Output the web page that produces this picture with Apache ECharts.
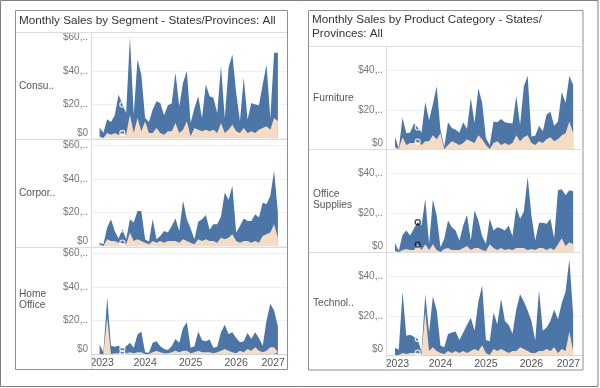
<!DOCTYPE html>
<html><head><meta charset="utf-8">
<script src="https://cdn.jsdelivr.net/npm/echarts@6/dist/echarts.min.js"></script>
<style>html,body{margin:0;padding:0;background:#fff}#c{width:600px;height:388px}</style>
</head><body><div id="c"></div>
<script>
// ---- data (thousands of $), months Jan 2023 .. Dec 2026 ----
const yearLabels = ['2023','2024','2025','2026','2027'];
const leftTitle = 'Monthly Sales by Segment - States/Provinces: All';
const rightTitle = 'Monthly Sales by Product Category - States/\nProvinces: All';
const segmentLabels = ['Consu..','Corpor..','Home\nOffice'];
const categoryLabels = ['Furniture','Office\nSupplies','Technol..'];
const leftTicks = [0,20,40,60];
const rightTicks = [0,20,40];

const consumerSales = [6.2,3.2,11.2,9.6,13.6,26,20,15,60.4,14,47,38,12,9.6,17,22,21,13.6,19.6,20.6,39,19,33,40,9,18,25,12,32,25,24,15,43,12,42,50,27,10,36,11,21,20,19.6,32,44,12,51,51];
const consumerProfit = [1,0,3,2,3,2,3,2,14,3,12,4,10,3,3,6,3,2,4,4,9,3,5,10,1,6,5,4,5,4,5,3,9,3,5,8,4,3,6,3,4,3,5,6,7,5,12,10];
const corporateSales = [2,1,11,16,9,4.5,10,4,16,14,21,21,4,2.5,16,4,6,9,8,12,16.5,9,27,16,10.5,4,14.5,16,18.5,9.7,13,13,17.6,32,27.5,36,8,12,16.5,15,15,19,17,26,25,30,45,20];
const corporateProfit = [1,0,4,3,3,2,2,1,8,3,4,3,2,1,3,2,3,2,3,3,3,2,4,3,2,1,4,3,4,3,3,2,5,4,5,7,3,2,3,3,2,3,2,6,7,8,13,5];
const homeSales = [5.7,1,34,5,4.3,5,3,4.7,6.7,3.7,11.6,13.5,1,0.8,6.7,7.6,4.7,3,2.4,4.7,9,6.7,15.5,19,3.7,4.7,13.5,8.2,7.6,8.6,3.7,4.3,13,17.5,12,13,9.6,7,7.6,12.5,9,13,9.6,5,20,30,26,16.5];
const homeProfit = [0,0,22,0,0.5,0.5,0.5,0.5,1,0.5,1,1,0,0,1,2,1,0.5,0.5,1,2,1,2,2,0.5,1,2,1,1,1,0.5,1,2,3,2,1,0.5,2,1,3,2,4,2,1,2,4,4,1];
const furnitureSales = [6.4,0.3,15.9,8,8.4,13,11,8.4,24,14.7,22.8,32,9.8,1.2,13.6,10.7,9.8,8.4,13.6,10.2,26,13.3,31,23.6,5.5,2,14,13.6,15.3,13.6,13.3,13,27,12.4,32,37.4,6.4,6.7,11.9,9,17.6,19,11.9,14,29,23.6,37.4,32.6];
const furnitureProfit = [1,0,6,2,3,3,3.8,2,4,4,7,5,8,0,2,4,3,2,3,5,4,3,7,5,2,0,3,4,2,3,2,3,7,4,6,7,3,2,4,3,5,6,4,5,7,8,14,8];
const officeSales = [4.6,0.7,8.7,11,8.4,12,15.2,13.5,27,4.1,26.8,18.6,2.4,6.7,16,12.6,11,5.8,13.5,19,5.8,21.2,16,8,4.1,16.9,11,12.6,12,11,13.5,8,22.9,16.9,20.7,38.3,18.6,5.8,14.9,14.9,14.4,16.9,7,31.5,32,28.9,31.5,31];
const officeProfit = [0.5,0,1,1.5,1,1,3.8,1,4,1,4,1,0,1.5,2,1,1,1,2,3,1,2,2,1,0.5,4,2,1,2,1,1.5,1,2,2,2,1,1.5,1,2,2,1,2,1,4,7,3,5,4];
const techSales = [3.7,2.7,32.3,9.8,10.3,9.3,8.2,1.5,31,11.5,29.8,23,4.8,4,10.7,11.5,12,7.7,11.5,15.3,19,12.3,27.3,35.3,7.7,7,21.5,15.7,28.7,17.3,15.3,11,23.2,31,27.3,22.7,17.3,7.3,33.2,12.3,14,17.3,23.2,18.2,26.5,32.3,49,20.7];
const techProfit = [0,0,1,0.5,1,1,1.2,0.5,22,2,4,2,1,0.5,2,1,2,1,2,1,2,3,2,5,1,0,3,2,3,2,1,2,2,4,3,2,1,1,2,2,3,2,4,1,3,2,12,2];
const highlightMonth = 6; // Jul 2023

// ---- styling / layout ----
const BLUE = '#4b76a7', PEACH = '#f6dcc3';
const FONT = '"Liberation Sans", Arial, sans-serif';
const panels = [
  {sales: consumerSales, profit: consumerProfit, side: 0, row: 0, mk: '#ffffff'},
  {sales: corporateSales, profit: corporateProfit, side: 0, row: 1, mk: '#ffffff'},
  {sales: homeSales, profit: homeProfit, side: 0, row: 2, mk: '#ffffff'},
  {sales: furnitureSales, profit: furnitureProfit, side: 1, row: 0, mk: '#ffffff'},
  {sales: officeSales, profit: officeProfit, side: 1, row: 1, mk: '#111111'},
  {sales: techSales, profit: techProfit, side: 1, row: 2, mk: '#ffffff'}
];
const layout = [
  {left: 92, width: 195, tops: [33,141,249], height: 105, xmin: -2, xmax: 49.4, ymax: 62.8, ticks: leftTicks, zpad: 9},
  {left: 387, width: 196, tops: [47,150,253], height: 102, xmin: -2.1, xmax: 49.6, ymax: 52, ticks: rightTicks, zpad: 11}
];

const grids = [], xAxes = [], yAxes = [], series = [];
panels.forEach((p, k) => {
  const L = layout[p.side];
  const bottom = p.row === 2;
  grids.push({left: L.left, width: L.width, top: L.tops[p.row], height: L.height});
  xAxes.push({
    type: 'value', gridIndex: k, min: L.xmin, max: L.xmax,
    axisLine: {show: bottom, lineStyle: {color: '#d4d4d4', width: 1}},
    axisTick: {show: false}, splitLine: {show: false},
    axisLabel: {
      show: bottom, customValues: [0,12,24,36,48], margin: 4,
      color: '#555', fontSize: 10.5, fontFamily: FONT,
      formatter: v => {
        const i = Math.round(v / 12);
        const t = yearLabels[i];
        if (i === 0) return '{a|' + t + '}';
        if (i === yearLabels.length - 1) return '{b|' + t + '}';
        return t;
      },
      rich: {
        a: {padding: [0,0,0,5], color: '#555', fontSize: 10.5, fontFamily: FONT},
        b: {padding: [0,17,0,0], color: '#555', fontSize: 10.5, fontFamily: FONT}
      }
    }
  });
  yAxes.push({
    type: 'value', gridIndex: k, min: 0, max: L.ymax,
    axisLine: {show: false},
    axisTick: {show: false, customValues: L.ticks},
    splitLine: {show: true, lineStyle: {color: '#f0f0f0', width: 1}},
    axisLabel: {
      customValues: L.ticks, margin: 4, color: '#777', fontSize: 10, fontFamily: FONT,
      formatter: v => v === 0 ? '{z|$0}' : '$' + v + ',..',
      rich: {z: {padding: [0,0,L.zpad,0], color: '#777', fontSize: 10, fontFamily: FONT}}
    }
  });
  series.push({type: 'line', xAxisIndex: k, yAxisIndex: k, data: p.sales.map((v, i) => [i, v]),
    symbol: 'none', lineStyle: {width: 0}, areaStyle: {color: BLUE, opacity: 1}, silent: true, z: 2});
  series.push({type: 'line', xAxisIndex: k, yAxisIndex: k, data: p.profit.map((v, i) => [i, v]),
    symbol: 'none', lineStyle: {width: 0}, areaStyle: {color: PEACH, opacity: 1}, silent: true, z: 3});
  series.push({type: 'scatter', xAxisIndex: k, yAxisIndex: k,
    data: [[highlightMonth, p.sales[highlightMonth]], [highlightMonth, p.profit[highlightMonth]]],
    symbol: 'circle', symbolSize: 5, silent: true, z: 5,
    itemStyle: {color: 'rgba(0,0,0,0)', borderColor: p.mk, borderWidth: 1.3}});
});

const lineEl = (x1, y1, x2, y2, c) => ({type: 'line', silent: true, z: 1,
  shape: {x1, y1, x2, y2}, style: {stroke: c, lineWidth: 1}});
const textEl = (x, y, text, size, color, lh) => ({type: 'text', x, y, silent: true, z: 10,
  style: {text, fontSize: size, fontFamily: FONT, fill: color, verticalAlign: 'middle', lineHeight: lh || size * 1.2}});

const graphic = [
  {type: 'rect', silent: true, z: 1, shape: {x: 0.5, y: 0.5, width: 597.5, height: 386}, style: {fill: 'none', stroke: '#7f7f7f', lineWidth: 1}},
  {type: 'rect', silent: true, z: 1, shape: {x: 15.5, y: 10.5, width: 272, height: 359}, style: {fill: 'none', stroke: '#8f8f8f', lineWidth: 1}},
  {type: 'rect', silent: true, z: 1, shape: {x: 308.5, y: 10.5, width: 274.5, height: 359.5}, style: {fill: 'none', stroke: '#8f8f8f', lineWidth: 1}},
  lineEl(16, 32.5, 287, 32.5, '#dcdcdc'),
  lineEl(309, 46.5, 583, 46.5, '#dcdcdc'),
  lineEl(91.5, 33, 91.5, 369, '#dcdcdc'),
  lineEl(386.5, 47, 386.5, 370, '#dcdcdc'),
  lineEl(16, 139.5, 287, 139.5, '#dcdcdc'),
  lineEl(16, 247.5, 287, 247.5, '#dcdcdc'),
  lineEl(309, 149.5, 583, 149.5, '#dcdcdc'),
  lineEl(309, 252.5, 583, 252.5, '#dcdcdc'),
  textEl(19, 20.5, leftTitle, 11.7, '#333'),
  textEl(312, 27, rightTitle, 11.7, '#333', 14),
  textEl(19, 86, segmentLabels[0], 10.2, '#555'),
  textEl(19, 193, segmentLabels[1], 10.2, '#555'),
  textEl(19, 299.5, segmentLabels[2], 10.2, '#555', 11.5),
  textEl(313, 98, categoryLabels[0], 10.2, '#555'),
  textEl(313, 199.5, categoryLabels[1], 10.2, '#555', 11.5),
  textEl(313, 303, categoryLabels[2], 10.2, '#555')
];

const chart = echarts.init(document.getElementById('c'), null, {renderer: 'canvas'});
chart.setOption({
  animation: false,
  backgroundColor: '#fff',
  grid: grids, xAxis: xAxes, yAxis: yAxes, series, graphic
});
</script>
</body></html>
